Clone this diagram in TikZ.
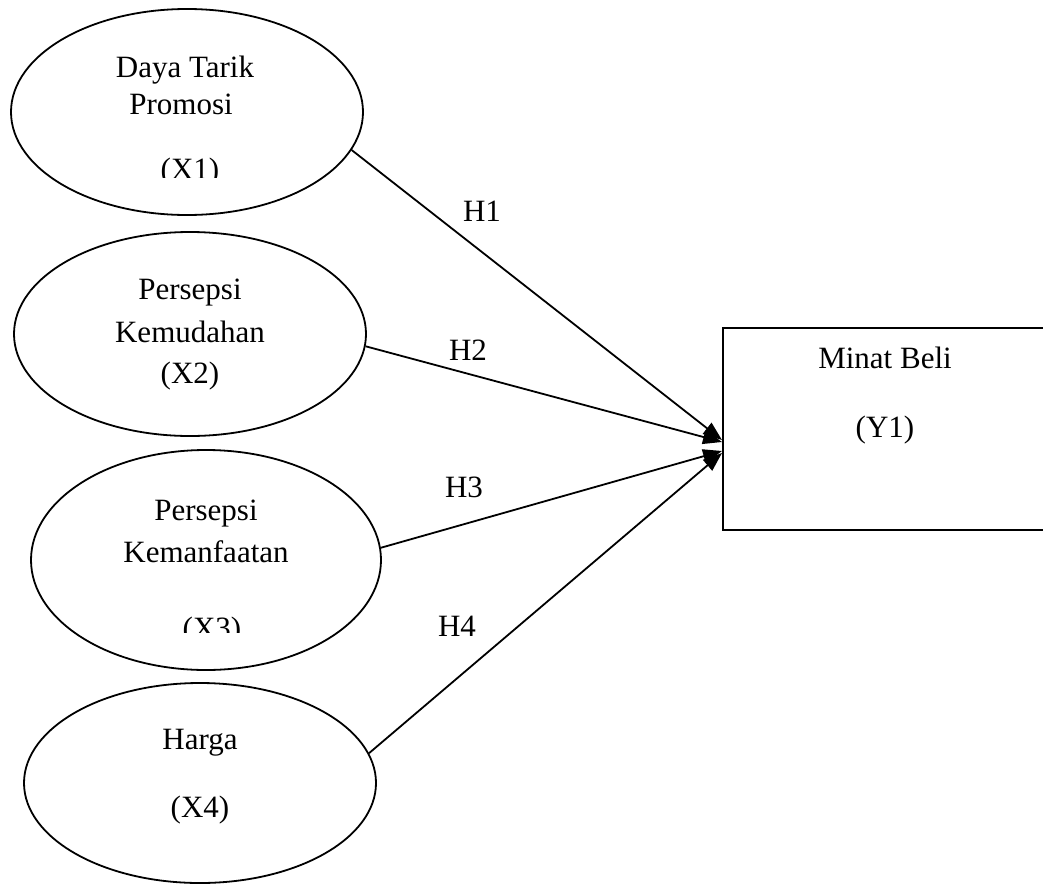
\documentclass[tikz,border=0pt]{standalone}
\usepackage{fontspec}
\setmainfont{Liberation Serif}
\usetikzlibrary{shapes.geometric,arrows.meta}
\begin{document}
\begin{tikzpicture}[x=1pt,y=-1pt,
  every node/.style={font=\fontsize{31}{37}\selectfont},
  var/.style={draw,ellipse,line width=1.8pt,inner sep=0pt},
  depbox/.style={draw,rectangle,line width=2.2pt,inner sep=0pt,minimum width=340pt,minimum height=202pt},
  txt/.style={anchor=base,inner sep=0pt},
  arr/.style={line width=1.8pt,-{Triangle[length=19pt,width=14pt]}}]
\useasboundingbox (0,0) rectangle (1043,886);
\clip (0,0) rectangle (1043,886);
% ellipses
\node[var,minimum width=352pt,minimum height=206pt] (E1) at (187,112) {};
\node[var,minimum width=352pt,minimum height=204pt] (E2) at (190,334) {};
\node[var,minimum width=350pt,minimum height=220pt] (E3) at (206,560) {};
\node[var,minimum width=352pt,minimum height=200pt] (E4) at (200,783) {};
% box
\node[depbox] (Y) at (893,429) {};
% texts
\node[txt] (t11) at (185,77) {Daya Tarik};
\node[txt] (t12) at (181,114) {Promosi};
\begin{scope}
\clip (100,120) rectangle (300,177);
\node[txt] (t13) at (190,179) {(X1)};
\end{scope}
\node[txt] (t21) at (190,299) {Persepsi};
\node[txt] (t22) at (190,342) {Kemudahan};
\node[txt] (t23) at (190,383) {(X2)};
\node[txt] (t31) at (206,520) {Persepsi};
\node[txt] (t32) at (206,562) {Kemanfaatan};
\begin{scope}
\clip (100,580) rectangle (320,632);
\node[txt] (t33) at (212,638) {(X3)};
\end{scope}
\node[txt] (t41) at (200,749) {Harga};
\node[txt] (t42) at (200,817) {(X4)};
\node[txt] (ty1) at (885,368) {Minat Beli};
\node[txt] (ty2) at (885,437) {(Y1)};
% arrow tips on the box
\coordinate (p1) at (722,440);
\coordinate (p2) at (722,442);
\coordinate (p3) at (722,451);
\coordinate (p4) at (722,453);
\draw[arr] (E1.-13.8) -- (p1);
\draw[arr] (E2.-4.2) -- (p2);
\draw[arr] (E3.4.3) -- (p3);
\draw[arr] (E4.10.2) -- (p4);
% labels
\node[txt] (h1) at (482,221) {H1};
\node[txt] (h2) at (468,360) {H2};
\node[txt] (h3) at (464,497) {H3};
\node[txt] (h4) at (457,636) {H4};
\end{tikzpicture}
\end{document}
